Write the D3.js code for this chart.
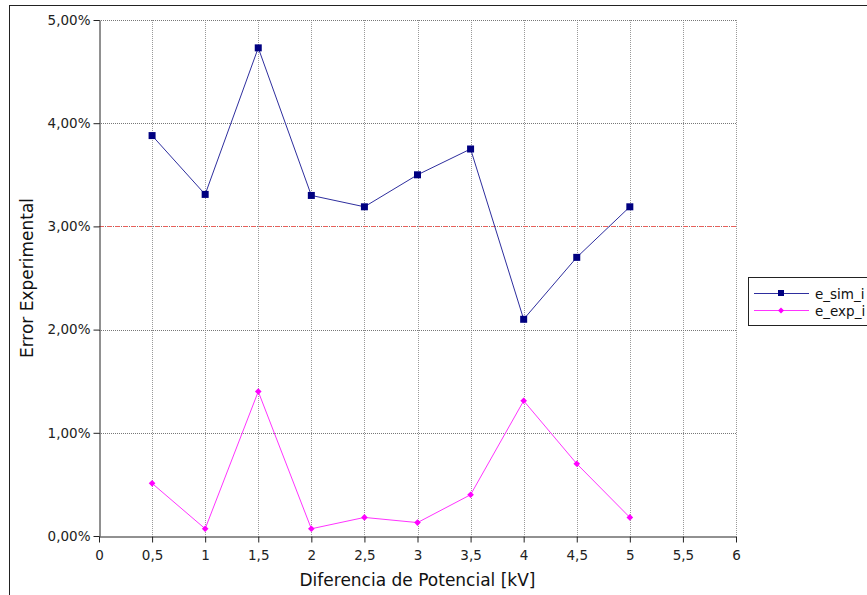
<!DOCTYPE html>
<html><head><meta charset="utf-8">
<script src="https://cdn.jsdelivr.net/npm/d3@7"></script>
<style>body{margin:0;background:#fff}svg{display:block;font-family:"DejaVu Sans",sans-serif}</style>
</head><body><svg id="c" width="867" height="595"></svg>
<script>
const xValues = [0.5, 1, 1.5, 2, 2.5, 3, 3.5, 4, 4.5, 5];
const eSim = [3.88, 3.31, 4.73, 3.30, 3.19, 3.50, 3.75, 2.10, 2.70, 3.19];
const eExp = [0.51, 0.07, 1.40, 0.07, 0.18, 0.13, 0.40, 1.31, 0.70, 0.18];
const xTicks = [0, 0.5, 1, 1.5, 2, 2.5, 3, 3.5, 4, 4.5, 5, 5.5, 6];
const yTicks = [0, 1, 2, 3, 4, 5];
const refValue = 3;
const seriesNames = ["e_sim_i", "e_exp_i"];

const svg = d3.select("#c");
const x = d3.scaleLinear().domain([0, 6]).range([99, 736]);
const y = d3.scaleLinear().domain([0, 5]).range([536, 20]);
const fmtX = d => d3.format("")(d).replace(".", ",");
const fmtY = d => d.toFixed(2).replace(".", ",") + "%";

// outer frame
svg.append("rect").attr("x", 9.5).attr("y", 5.5).attr("width", 900).attr("height", 700)
  .attr("fill", "none").attr("stroke", "#222").attr("stroke-width", 1);

// grid
const g = svg.append("g");
g.selectAll(".gx").data(xTicks.filter(d => d > 0)).join("line")
  .attr("x1", d => Math.round(x(d)) + 0.5).attr("x2", d => Math.round(x(d)) + 0.5)
  .attr("y1", y(5)).attr("y2", y(0))
  .attr("stroke", "#999").attr("stroke-dasharray", "1,1");
g.selectAll(".gy").data(yTicks.filter(d => d > 0)).join("line")
  .attr("x1", x(0)).attr("x2", x(6))
  .attr("y1", d => Math.round(y(d)) + 0.5).attr("y2", d => Math.round(y(d)) + 0.5)
  .attr("stroke", "#777").attr("stroke-dasharray", "1,1");

// reference line
svg.append("line").attr("x1", x(0)).attr("x2", x(6))
  .attr("y1", Math.round(y(refValue)) + 0.5).attr("y2", Math.round(y(refValue)) + 0.5)
  .attr("stroke", "#e8605a").attr("stroke-dasharray", "5,3");

// axes
const xAxis = d3.axisBottom(x).tickValues(xTicks).tickFormat(fmtX).tickSize(6).tickSizeOuter(0);
const ax = svg.append("g").attr("transform", `translate(0,${Math.round(y(0)) + 0.5})`).call(xAxis);
ax.select(".domain").attr("stroke", "#222");
ax.selectAll(".tick line").attr("stroke", "#222");
ax.selectAll("text").attr("font-size", 13.5).attr("fill", "#222").attr("dy", "1.1em")
  .attr("font-family", "DejaVu Sans");

const yAxis = d3.axisLeft(y).tickValues(yTicks).tickFormat(fmtY).tickSize(6).tickSizeOuter(0);
const ay = svg.append("g").attr("transform", `translate(${Math.round(x(0)) + 0.5},0)`).call(yAxis);
ay.select(".domain").attr("stroke", "#222");
ay.selectAll(".tick line").attr("stroke", "#222");
ay.selectAll("text").attr("font-size", 13.5).attr("fill", "#222").attr("font-family", "DejaVu Sans").attr("x", -9);

// titles
svg.append("text").attr("x", (x(0) + x(6)) / 2).attr("y", 586).attr("text-anchor", "middle")
  .attr("font-size", 17).attr("fill", "#111").text("Diferencia de Potencial [kV]");
svg.append("text").attr("transform", `translate(33,${(y(0) + y(5)) / 2}) rotate(-90)`)
  .attr("text-anchor", "middle").attr("font-size", 17).attr("fill", "#111").text("Error Experimental");

// series
const line = d3.line().x(d => x(d[0])).y(d => y(d[1]));
const simPts = xValues.map((v, i) => [v, eSim[i]]);
const expPts = xValues.map((v, i) => [v, eExp[i]]);
svg.append("path").attr("d", line(simPts)).attr("fill", "none").attr("stroke", "#2e2e9e").attr("stroke-width", 1);
svg.append("path").attr("d", line(expPts)).attr("fill", "none").attr("stroke", "#ff33ff").attr("stroke-width", 1);
svg.selectAll(".ms").data(simPts).join("rect")
  .attr("x", d => x(d[0]) - 3.5).attr("y", d => y(d[1]) - 3.5).attr("width", 7).attr("height", 7).attr("fill", "#000080");
const diamond = d3.symbol().type(d3.symbolSquare).size(22);
svg.selectAll(".me").data(expPts).join("path")
  .attr("transform", d => `translate(${x(d[0])},${y(d[1])}) rotate(45)`).attr("d", diamond).attr("fill", "#ff00ff");

// legend
const lg = svg.append("g");
lg.append("rect").attr("x", 748.5).attr("y", 277.5).attr("width", 140).attr("height", 48)
  .attr("fill", "#fff").attr("stroke", "#222");
lg.append("line").attr("x1", 754).attr("x2", 809).attr("y1", 293.5).attr("y2", 293.5).attr("stroke", "#2e2e9e");
lg.append("rect").attr("x", 778).attr("y", 290).attr("width", 6).attr("height", 6).attr("fill", "#000080");
lg.append("line").attr("x1", 754).attr("x2", 809).attr("y1", 310.5).attr("y2", 310.5).attr("stroke", "#ff33ff");
lg.append("path").attr("transform", "translate(781,310.5) rotate(45)").attr("d", d3.symbol().type(d3.symbolSquare).size(18)).attr("fill", "#ff00ff");
lg.selectAll(".lt").data(seriesNames).join("text")
  .attr("x", 815).attr("y", (d, i) => 298.5 + i * 17).attr("font-size", 13.5).attr("fill", "#111").text(d => d);
</script></body></html>
